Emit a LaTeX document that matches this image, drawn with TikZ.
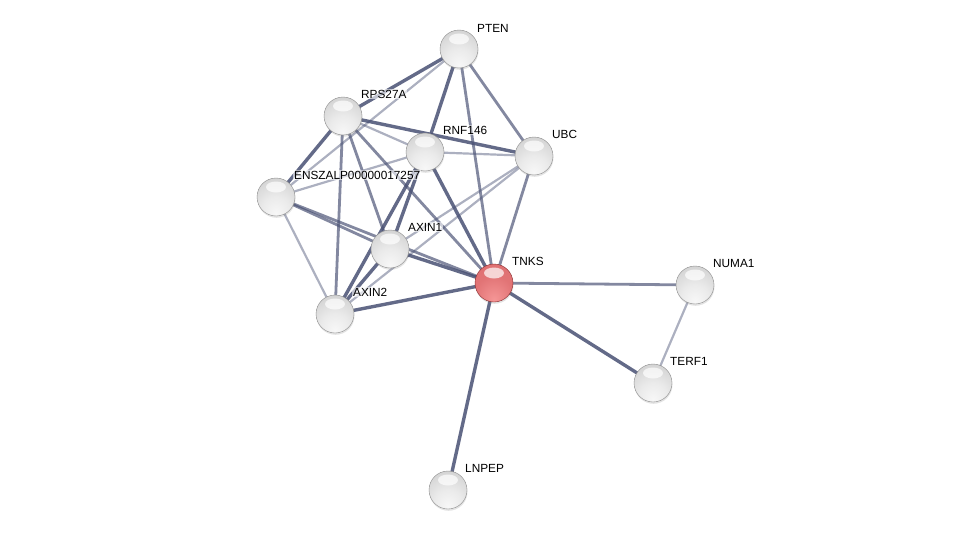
\documentclass[tikz,border=0pt]{standalone}
\usepackage{fontspec}
\setmainfont{Liberation Sans}
\usetikzlibrary{backgrounds,shadows}
\definecolor{edgec}{RGB}{72,80,115}
\definecolor{redlight}{RGB}{245,150,150}
\definecolor{redmid}{RGB}{222,110,112}
\definecolor{reddark}{RGB}{170,55,58}
\pgfdeclareradialshading{graysphere}{\pgfpoint{0bp}{-22bp}}{%
  color(0bp)=(black!3); color(18bp)=(black!8); color(40bp)=(black!18);
  color(58bp)=(black!25); color(68bp)=(black!40); color(76bp)=(black!55); color(90bp)=(black!55)}
\pgfdeclareradialshading{redsphere}{\pgfpoint{0bp}{-22bp}}{%
  color(0bp)=(redlight); color(25bp)=(redmid!85!redlight); color(50bp)=(redmid);
  color(66bp)=(redmid!80!reddark); color(76bp)=(reddark); color(90bp)=(reddark)}
\tikzset{
  prot/.style={circle, minimum size=38pt, inner sep=0pt, draw=black!45, line width=0.4pt,
    shading=graysphere,
    drop shadow={opacity=0.22, shadow xshift=0.5pt, shadow yshift=-1.8pt},
    path picture={\fill[white, opacity=0.7] (path picture bounding box.center) ++(0,10pt) ellipse (10pt and 5.5pt);}},
  protred/.style={prot, shading=redsphere, draw=reddark!80!black},
  lbl/.style={anchor=west, inner sep=1pt, font=\fontsize{11.8}{13}\selectfont,
    fill=white, fill opacity=0.6, text opacity=1},
  ethick/.style={draw=edgec, line width=3.4pt, draw opacity=0.85},
  emed/.style={draw=edgec, line width=2.8pt, draw opacity=0.68},
  elight/.style={draw=edgec, line width=2.2pt, draw opacity=0.45},
}
\begin{document}
\begin{tikzpicture}[x=1pt,y=-1pt]
\useasboundingbox (0,0) rectangle (975,535);
% nodes
\node[prot] (PTEN) at (459,49) {};
\node[prot] (RPS) at (343,116) {};
\node[prot] (RNF) at (425,152) {};
\node[prot] (UBC) at (534,156) {};
\node[prot] (ENS) at (276,197) {};
\node[prot] (AX1) at (390,249) {};
\node[protred] (TNKS) at (494,283) {};
\node[prot] (AX2) at (335,314) {};
\node[prot] (NUMA) at (695,285) {};
\node[prot] (TERF) at (653,383) {};
\node[prot] (LNP) at (448,490) {};
% labels
\node[lbl] (lPTEN) at (476,28) {PTEN};
\node[lbl] (lRPS) at (360,94) {RPS27A};
\node[lbl] (lRNF) at (442,130) {RNF146};
\node[lbl] (lUBC) at (551,134) {UBC};
\node[lbl] (lENS) at (293,175) {ENSZALP00000017257};
\node[lbl] (lAX1) at (407,227) {AXIN1};
\node[lbl] (lTNKS) at (511,261) {TNKS};
\node[lbl] (lAX2) at (352,292) {AXIN2};
\node[lbl] (lNUMA) at (712,263) {NUMA1};
\node[lbl] (lTERF) at (669,361) {TERF1};
\node[lbl] (lLNP) at (464,468) {LNPEP};
% edges
\begin{pgfonlayer}{background}
\draw[ethick] (PTEN.center) -- (RPS.center);
\draw[elight] (PTEN.center) -- (ENS.center);
\draw[ethick] (PTEN.center) -- (RNF.center);
\draw[emed] (PTEN.center) -- (TNKS.center);
\draw[emed] (PTEN.center) -- (UBC.center);
\draw[ethick] (RPS.center) -- (UBC.center);
\draw[elight] (RPS.center) -- (RNF.center);
\draw[ethick] (RPS.center) -- (ENS.center);
\draw[emed] (RPS.center) -- (AX2.center);
\draw[emed] (RPS.center) -- (AX1.center);
\draw[emed] (RPS.center) -- (TNKS.center);
\draw[elight] (RNF.center) -- (UBC.center);
\draw[elight] (RNF.center) -- (ENS.center);
\draw[ethick] (RNF.center) -- (AX1.center);
\draw[ethick] (RNF.center) -- (AX2.center);
\draw[ethick] (RNF.center) -- (TNKS.center);
\draw[emed] (UBC.center) -- (TNKS.center);
\draw[elight] (UBC.center) -- (AX1.center);
\draw[elight] (UBC.center) -- (AX2.center);
\draw[emed] (ENS.center) -- (AX1.center);
\draw[emed] (ENS.center) -- (TNKS.center);
\draw[elight] (ENS.center) -- (AX2.center);
\draw[ethick] (AX1.center) -- (TNKS.center);
\draw[ethick] (AX1.center) -- (AX2.center);
\draw[ethick] (AX2.center) -- (TNKS.center);
\draw[emed] (TNKS.center) -- (NUMA.center);
\draw[ethick] (TNKS.center) -- (TERF.center);
\draw[ethick] (TNKS.center) -- (LNP.center);
\draw[elight] (NUMA.center) -- (TERF.center);
\end{pgfonlayer}
\end{tikzpicture}
\end{document}
